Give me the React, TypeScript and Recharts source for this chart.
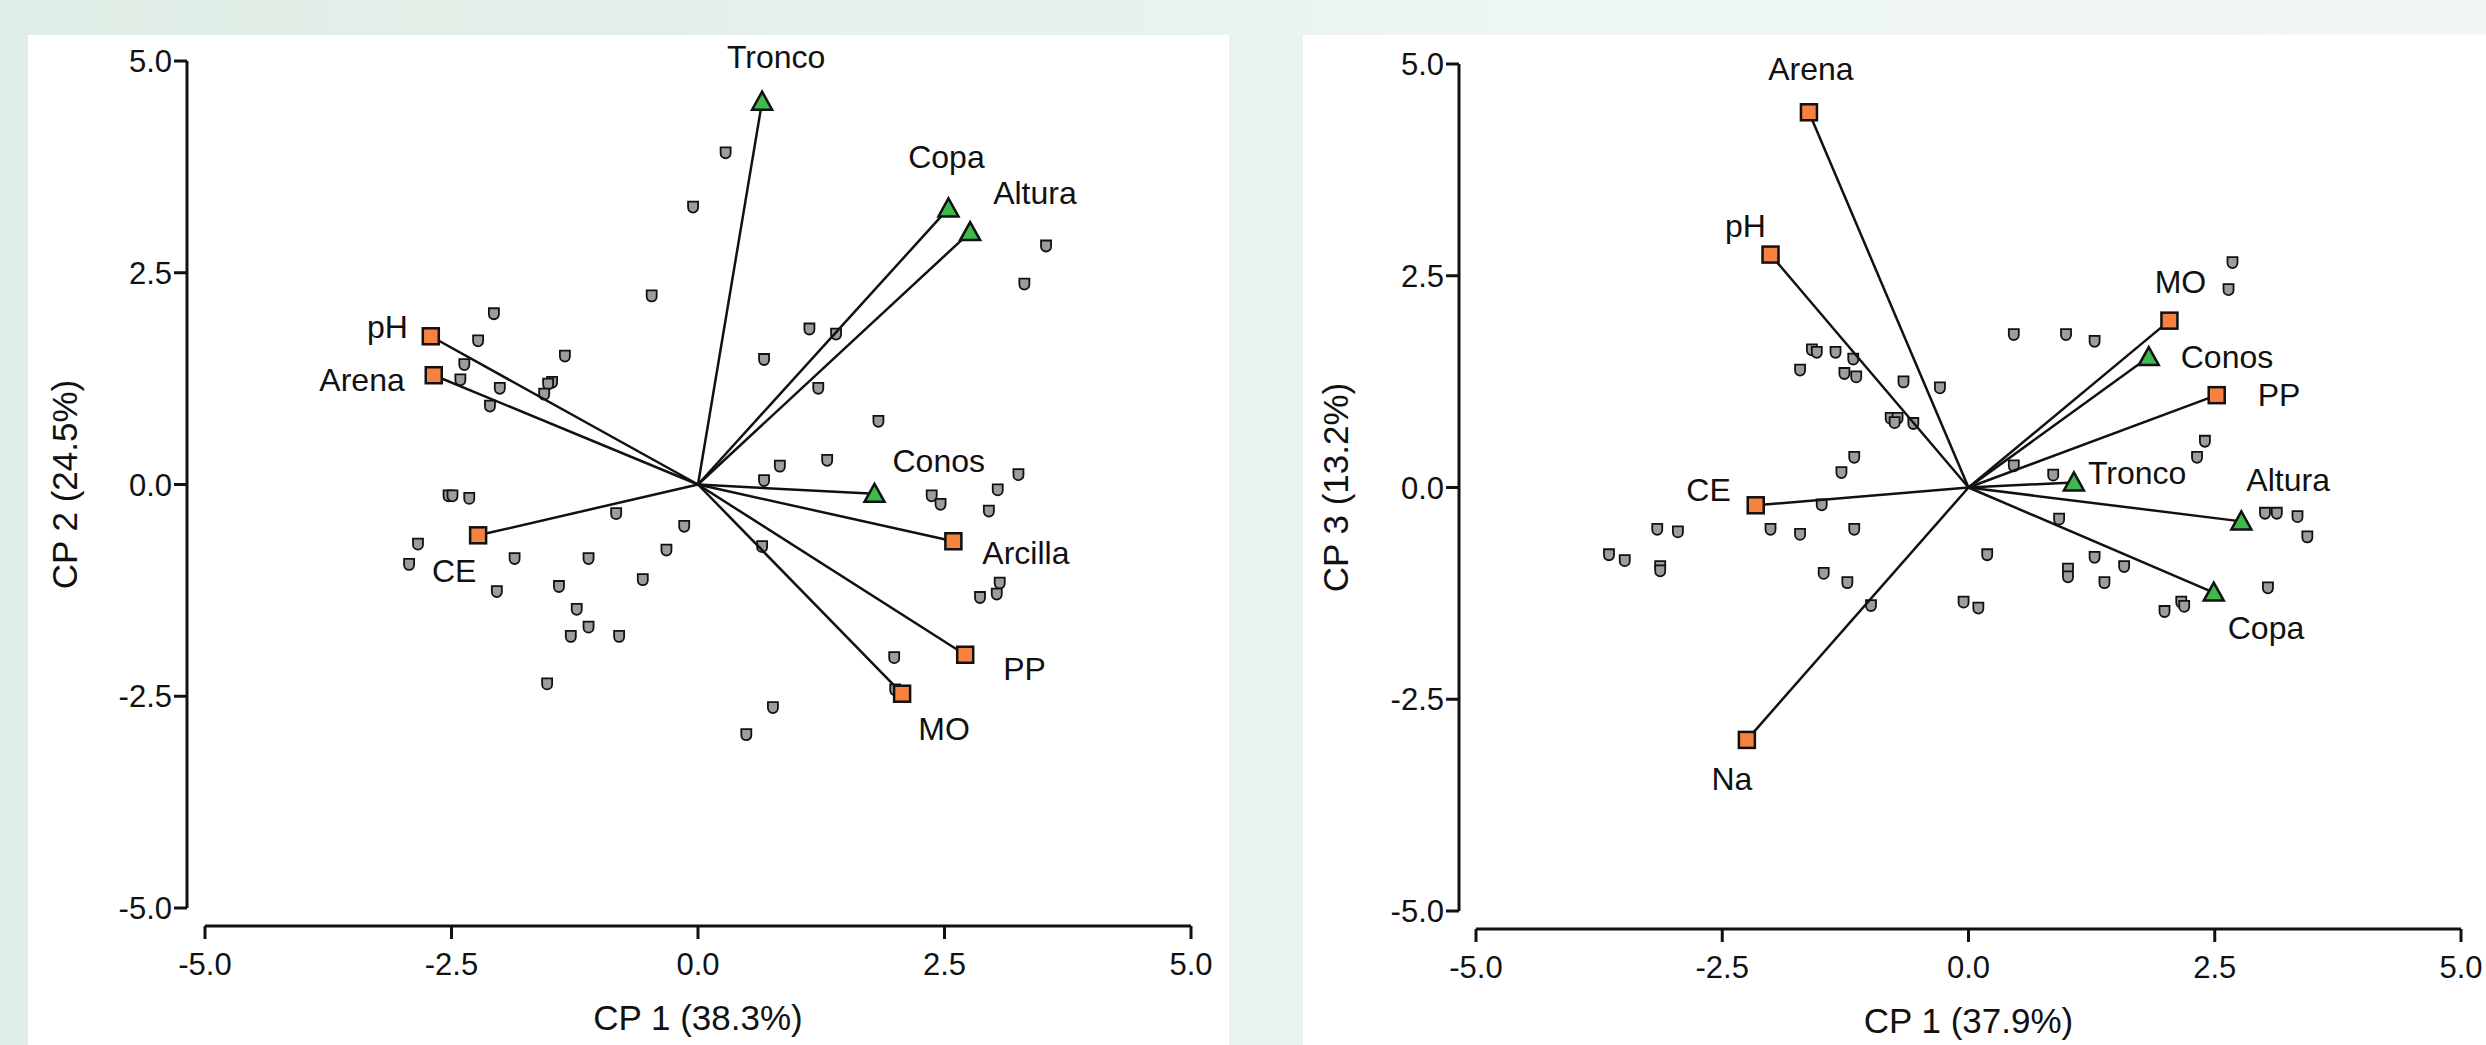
import React from "react";
import { ScatterChart, Scatter, XAxis, YAxis } from "recharts";

const FONT = '"Liberation Sans", Arial, Helvetica, sans-serif';
const INK = "#111";
const TICKS = [-5, -2.5, 0, 2.5, 5];

// ---- Biplot 1: CP 1 (38.3%) vs CP 2 (24.5%) ----
const OBS_CP1_CP2 = [
  [0.28, 3.91], [-0.05, 3.27], [-0.47, 2.22], [3.53, 2.81], [3.31, 2.36], [-2.07, 2.01],
  [-2.23, 1.69], [-1.35, 1.51], [-2.37, 1.41], [-2.41, 1.23], [-2.01, 1.13], [-1.48, 1.2],
  [-1.52, 1.18], [-1.56, 1.06], [-2.11, 0.92], [1.13, 1.83], [1.4, 1.77], [0.67, 1.47],
  [1.22, 1.13], [1.83, 0.74], [0.83, 0.21], [1.31, 0.28], [0.67, 0.04], [3.25, 0.11],
  [3.04, -0.07], [2.37, -0.14], [2.46, -0.24], [2.95, -0.32], [-2.53, -0.14], [-2.49, -0.14],
  [-2.32, -0.17], [-0.83, -0.35], [-0.14, -0.5], [-2.84, -0.71], [-2.93, -0.95], [-1.86, -0.88],
  [-1.11, -0.88], [-0.32, -0.78], [0.65, -0.74], [-0.56, -1.13], [-2.04, -1.27], [-1.41, -1.21],
  [-1.23, -1.48], [-1.11, -1.69], [-1.29, -1.8], [-0.8, -1.8], [-1.53, -2.36], [3.06, -1.17],
  [3.03, -1.3], [2.86, -1.34], [1.99, -2.05], [2.0, -2.43], [0.76, -2.64], [0.49, -2.96],
];
const SOIL_1 = ["pH", "Arena", "CE", "Arcilla", "PP", "MO"];
const SOIL_1_X = [-2.71, -2.68, -2.23, 2.59, 2.71, 2.07];
const SOIL_1_Y = [1.75, 1.29, -0.6, -0.67, -2.01, -2.47];
const TREE_1 = ["Tronco", "Copa", "Altura", "Conos"];
const TREE_1_X = [0.65, 2.54, 2.76, 1.79];
const TREE_1_Y = [4.52, 3.26, 2.98, -0.11];

// ---- Biplot 2: CP 1 (37.9%) vs CP 3 (13.2%) ----
const OBS_CP1_CP3 = [
  [2.68, 2.65], [2.64, 2.33], [0.46, 1.8], [0.99, 1.8], [1.28, 1.72], [-1.59, 1.62],
  [-1.54, 1.59], [-1.35, 1.59], [-1.17, 1.51], [-1.71, 1.38], [-1.26, 1.34], [-1.14, 1.3],
  [-0.66, 1.24], [-0.29, 1.17], [-0.79, 0.81], [-0.72, 0.81], [-0.75, 0.76], [-0.56, 0.75],
  [-1.16, 0.35], [-1.29, 0.17], [0.46, 0.25], [0.86, 0.14], [2.4, 0.54], [2.32, 0.35],
  [-1.49, -0.21], [-2.01, -0.5], [-1.71, -0.56], [-1.16, -0.5], [-3.16, -0.5], [-2.95, -0.53],
  [-3.65, -0.8], [-3.49, -0.87], [-3.13, -0.94], [-3.13, -0.99], [-1.47, -1.02], [-1.23, -1.13],
  [-0.99, -1.4], [-0.05, -1.36], [0.1, -1.43], [0.19, -0.8], [0.92, -0.38], [1.01, -0.97],
  [1.01, -1.06], [1.28, -0.83], [1.58, -0.94], [1.38, -1.13], [1.99, -1.47], [2.16, -1.36],
  [2.19, -1.41], [3.04, -1.19], [3.01, -0.31], [3.13, -0.31], [3.34, -0.35], [3.44, -0.59],
];
const SOIL_2 = ["Arena", "pH", "MO", "PP", "CE", "Na"];
const SOIL_2_X = [-1.62, -2.01, 2.04, 2.52, -2.16, -2.25];
const SOIL_2_Y = [4.43, 2.75, 1.97, 1.09, -0.21, -2.98];
const TREE_2 = ["Conos", "Tronco", "Altura", "Copa"];
const TREE_2_X = [1.83, 1.07, 2.77, 2.49];
const TREE_2_Y = [1.54, 0.06, -0.4, -1.24];

type Pt = { x: number; y: number; name?: string };
type LabelPos = { dx: number; dy: number; anchor: "start" | "middle" | "end" };

// label placement next to each vector tip (pixels)
const LABELS_1: Record<string, LabelPos> = {
  Tronco: { dx: 14, dy: -45, anchor: "middle" },
  Copa: { dx: -2, dy: -51, anchor: "middle" },
  Altura: { dx: 23, dy: -39, anchor: "start" },
  Conos: { dx: 18, dy: -33, anchor: "start" },
  pH: { dx: -23, dy: -9, anchor: "end" },
  Arena: { dx: -29, dy: 5, anchor: "end" },
  CE: { dx: -24, dy: 36, anchor: "middle" },
  Arcilla: { dx: 29, dy: 12, anchor: "start" },
  PP: { dx: 38, dy: 14, anchor: "start" },
  MO: { dx: 42, dy: 35, anchor: "middle" },
};
const LABELS_2: Record<string, LabelPos> = {
  Arena: { dx: 2, dy: -43, anchor: "middle" },
  pH: { dx: -25, dy: -29, anchor: "middle" },
  MO: { dx: 11, dy: -39, anchor: "middle" },
  Conos: { dx: 32, dy: 0, anchor: "start" },
  PP: { dx: 41, dy: 0, anchor: "start" },
  Tronco: { dx: 14, dy: -9, anchor: "start" },
  Altura: { dx: 5, dy: -41, anchor: "start" },
  Copa: { dx: 14, dy: 35, anchor: "start" },
  CE: { dx: -25, dy: -15, anchor: "end" },
  Na: { dx: -15, dy: 39, anchor: "middle" },
};

const toPts = (pairs: number[][]): Pt[] => pairs.map(([x, y]) => ({ x, y }));
const toLoadings = (names: string[], xs: number[], ys: number[]): Pt[] =>
  names.map((name, i) => ({ name, x: xs[i], y: ys[i] }));

function ObsDot(props: any) {
  const { cx, cy } = props;
  if (cx == null || cy == null) return <g />;
  return (
    <path
      d={`M${cx - 5},${cy - 6} L${cx + 5},${cy - 6} L${cx + 5},${cy} A5,5 0 0 1 ${cx - 5},${cy} Z`}
      fill="#9d9d9d"
      stroke={INK}
      strokeWidth={1.8}
    />
  );
}

const Empty = () => <g />;

function makeMarker(kind: "square" | "triangle", labels: Record<string, LabelPos>) {
  return (props: any) => {
    const { cx, cy, payload } = props;
    if (cx == null || cy == null) return <g />;
    const lp = labels[payload.name] ?? { dx: 20, dy: 0, anchor: "start" };
    return (
      <g>
        {kind === "square" ? (
          <rect x={cx - 8} y={cy - 8} width={16} height={16} fill="#f7823f" stroke={INK} strokeWidth={2.5} />
        ) : (
          <path
            d={`M${cx},${cy - 10} L${cx + 10},${cy + 8} L${cx - 10},${cy + 8} Z`}
            fill="#3dba4b"
            stroke={INK}
            strokeWidth={2.5}
          />
        )}
        <text
          x={cx + lp.dx}
          y={cy + lp.dy}
          textAnchor={lp.anchor}
          dominantBaseline="central"
          fontSize={32}
          fontFamily={FONT}
          fill={INK}
        >
          {payload.name}
        </text>
      </g>
    );
  };
}

interface BiplotProps {
  width: number;
  height: number;
  yAxisWidth: number;
  marginTop: number;
  marginRight: number;
  xAxisHeight: number;
  padX: number;
  padY: number;
  yTitleX: number;
  xTitleBaseline: number;
  obs: Pt[];
  soil: Pt[];
  tree: Pt[];
  labels: Record<string, LabelPos>;
  xTitle: string;
  yTitle: string;
}

function Biplot(p: BiplotProps) {
  const plotW = p.width - p.yAxisWidth - p.marginRight;
  const plotH = p.height - p.marginTop - p.xAxisHeight;
  const tickStyle = { fontSize: 31, fontFamily: FONT, fill: INK };
  const fmt = (v: number) => v.toFixed(1);

  return (
    <ScatterChart
      width={p.width}
      height={p.height}
      margin={{ top: p.marginTop, right: p.marginRight, bottom: 0, left: 0 }}
    >
      <XAxis
        type="number"
        dataKey="x"
        domain={[-5, 5]}
        ticks={TICKS}
        interval={0}
        padding={{ left: p.padX, right: 0 }}
        height={p.xAxisHeight}
        tickSize={13}
        tickMargin={14}
        tickFormatter={fmt}
        tick={tickStyle}
        axisLine={{ stroke: INK, strokeWidth: 3, strokeDasharray: `0 ${p.padX} ${plotW - p.padX} 4000` }}
        tickLine={{ stroke: INK, strokeWidth: 3 }}
        label={(lp: any) => {
          const vb = lp.viewBox ?? { x: 0, y: 0, width: 0 };
          return (
            <text
              x={vb.x + p.padX + (vb.width - p.padX) / 2}
              y={vb.y + p.xTitleBaseline}
              textAnchor="middle"
              fontSize={35}
              fontFamily={FONT}
              fill={INK}
            >
              {p.xTitle}
            </text>
          );
        }}
      />
      <YAxis
        type="number"
        dataKey="y"
        domain={[-5, 5]}
        ticks={TICKS}
        interval={0}
        padding={{ top: 0, bottom: p.padY }}
        width={p.yAxisWidth}
        tickSize={13}
        tickMargin={2}
        tickFormatter={fmt}
        tick={tickStyle}
        axisLine={{ stroke: INK, strokeWidth: 3, strokeDasharray: `${plotH - p.padY} 4000` }}
        tickLine={{ stroke: INK, strokeWidth: 3 }}
        label={(lp: any) => {
          const vb = lp.viewBox ?? { x: 0, y: 0, height: 0 };
          const cx = vb.x + p.yTitleX;
          const cy = vb.y + (vb.height - p.padY) / 2;
          return (
            <text
              x={cx}
              y={cy}
              transform={`rotate(-90 ${cx} ${cy})`}
              textAnchor="middle"
              dominantBaseline="central"
              fontSize={35}
              fontFamily={FONT}
              fill={INK}
            >
              {p.yTitle}
            </text>
          );
        }}
      />
      <Scatter data={p.obs} shape={ObsDot} isAnimationActive={false} />
      {[...p.soil, ...p.tree].map((v) => (
        <Scatter
          key={`vec-${v.name}`}
          data={[{ x: 0, y: 0 }, { x: v.x, y: v.y }]}
          line={{ stroke: INK, strokeWidth: 2.5 }}
          shape={Empty}
          isAnimationActive={false}
        />
      ))}
      <Scatter data={p.soil} shape={makeMarker("square", p.labels)} isAnimationActive={false} />
      <Scatter data={p.tree} shape={makeMarker("triangle", p.labels)} isAnimationActive={false} />
    </ScatterChart>
  );
}

export default function App() {
  return (
    <div
      style={{
        position: "absolute",
        left: 0,
        top: 0,
        width: 2486,
        height: 1045,
        overflow: "hidden",
        background: "linear-gradient(90deg, #deede5 0%, #e7f2ec 45%, #eef6f2 60%, #f0f7f4 100%)",
      }}
    >
      <div style={{ position: "absolute", left: 28, top: 35, width: 1201, height: 1010, background: "#fff" }}>
        <Biplot
          width={1201}
          height={1010}
          yAxisWidth={159}
          marginTop={26}
          marginRight={38}
          xAxisHeight={119}
          padX={18}
          padY={18}
          yTitleX={36}
          xTitleBaseline={104}
          obs={toPts(OBS_CP1_CP2)}
          soil={toLoadings(SOIL_1, SOIL_1_X, SOIL_1_Y)}
          tree={toLoadings(TREE_1, TREE_1_X, TREE_1_Y)}
          labels={LABELS_1}
          xTitle="CP 1 (38.3%)"
          yTitle="CP 2 (24.5%)"
        />
      </div>
      <div style={{ position: "absolute", left: 1303, top: 35, width: 1183, height: 1010, background: "#fff" }}>
        <Biplot
          width={1183}
          height={1010}
          yAxisWidth={156}
          marginTop={29}
          marginRight={25}
          xAxisHeight={116}
          padX={17}
          padY={18}
          yTitleX={32}
          xTitleBaseline={104}
          obs={toPts(OBS_CP1_CP3)}
          soil={toLoadings(SOIL_2, SOIL_2_X, SOIL_2_Y)}
          tree={toLoadings(TREE_2, TREE_2_X, TREE_2_Y)}
          labels={LABELS_2}
          xTitle="CP 1 (37.9%)"
          yTitle="CP 3 (13.2%)"
        />
      </div>
    </div>
  );
}
